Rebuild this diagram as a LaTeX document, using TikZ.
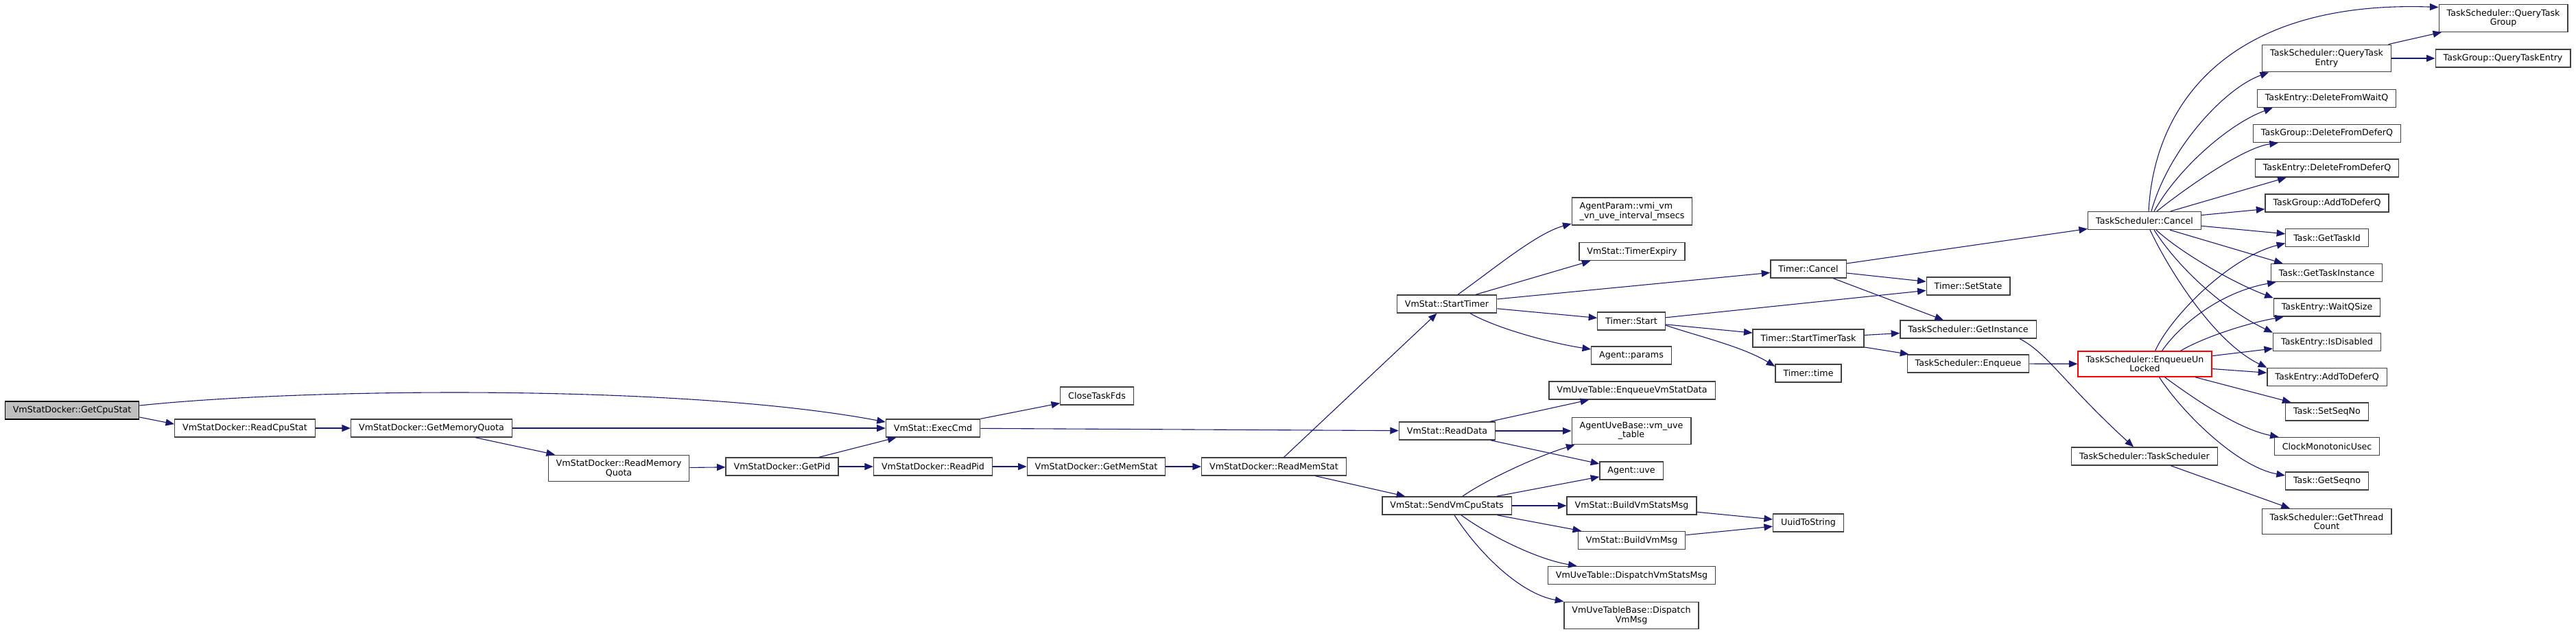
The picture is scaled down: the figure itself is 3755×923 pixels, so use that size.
\documentclass[tikz,border=0pt]{standalone}
\usepackage{fontspec}
\setmainfont{DejaVu Sans}
\usetikzlibrary{arrows.meta, positioning, calc}
\definecolor{edgeblue}{RGB}{25, 25, 112}
\definecolor{boxgray}{RGB}{191, 191, 191}
\definecolor{boxline}{RGB}{64, 64, 64}

\begin{document}
\begin{tikzpicture}[
  x=0.2mm, y=-0.2mm,
  box/.style={draw=boxline, fill=white, line width=0.26mm, minimum height=5.2mm, inner xsep=2.3mm, inner ysep=1.4mm, align=center, font=\fontsize{7.2}{7.6}\selectfont},
  rootbox/.style={box, draw=black, fill=boxgray},
  redbox/.style={box, draw=red},
  arrow/.style={-{Triangle[length=2.5mm, width=2mm]}, line width=0.22mm, color=edgeblue}
]
  \useasboundingbox (0,0) rectangle (3755,923);

  % VmStatDocker chain
  \node[rootbox] (getcpu) at (105,598) {VmStatDocker::GetCpuStat};
  \node[box] (readcpu) at (357,624) {VmStatDocker::ReadCpuStat};
  \node[box] (getmemq) at (629,624) {VmStatDocker::GetMemoryQuota};
  \node[box] (readmemq) at (902,682.5) {VmStatDocker::ReadMemory\\Quota};
  \node[box] (getpid) at (1140,680) {VmStatDocker::GetPid};
  \node[box] (readpid) at (1360,680) {VmStatDocker::ReadPid};
  \node[box] (getmemstat) at (1598,680) {VmStatDocker::GetMemStat};
  \node[box] (readmemstat) at (1857,680) {VmStatDocker::ReadMemStat};
  \node[box] (execcmd) at (1360,624) {VmStat::ExecCmd};
  \node[box] (closefds) at (1599,577) {CloseTaskFds};

  % VmStat
  \node[box] (starttimer) at (2109,443) {VmStat::StartTimer};
  \node[box] (readdata) at (2109.5,628) {VmStat::ReadData};
  \node[box] (sendcpu) at (2109,737) {VmStat::SendVmCpuStats};
  \node[box, align=left] (agentparam) at (2379,308) {AgentParam::vmi\_vm\\\_vn\_uve\_interval\_msecs};
  \node[box] (timerexpiry) at (2379,366.5) {VmStat::TimerExpiry};
  \node[box] (timerstart) at (2378,468) {Timer::Start};
  \node[box] (agentparams) at (2378,518) {Agent::params};
  \node[box] (enqvmstat) at (2379,569) {VmUveTable::EnqueueVmStatData};
  \node[box] (vmuvetable) at (2378,628) {AgentUveBase::vm\_uve\\\_table};
  \node[box] (agentuve) at (2378,686) {Agent::uve};
  \node[box] (buildstats) at (2378.5,737) {VmStat::BuildVmStatsMsg};
  \node[box] (buildvm) at (2378.5,787.5) {VmStat::BuildVmMsg};
  \node[box] (dispstats) at (2378.5,838.5) {VmUveTable::DispatchVmStatsMsg};
  \node[box] (dispvm) at (2378,897) {VmUveTableBase::Dispatch\\VmMsg};

  % Timer
  \node[box] (timercancel) at (2636,392) {Timer::Cancel};
  \node[box] (starttask) at (2636,493) {Timer::StartTimerTask};
  \node[box] (timertime) at (2636,544) {Timer::time};
  \node[box] (uuid) at (2636,762) {UuidToString};
  \node[box] (setstate) at (2869,417) {Timer::SetState};
  \node[box] (getinst) at (2869,480) {TaskScheduler::GetInstance};
  \node[box] (enqueue) at (2869,530) {TaskScheduler::Enqueue};

  % TaskScheduler
  \node[box] (cancel) at (3126,321.5) {TaskScheduler::Cancel};
  \node[redbox] (enqunlocked) at (3126.5,530.5) {TaskScheduler::EnqueueUn\\Locked};
  \node[box] (tsched) at (3126,665) {TaskScheduler::TaskScheduler};
  \node[box] (qtentry) at (3391.5,85) {TaskScheduler::QueryTask\\Entry};
  \node[box] (delwaitq) at (3391.5,143.5) {TaskEntry::DeleteFromWaitQ};
  \node[box] (tgdeldefer) at (3392,194.5) {TaskGroup::DeleteFromDeferQ};
  \node[box] (tedeldefer) at (3392,245) {TaskEntry::DeleteFromDeferQ};
  \node[box] (tgadddefer) at (3392,296) {TaskGroup::AddToDeferQ};
  \node[box] (gettaskid) at (3392,346.5) {Task::GetTaskId};
  \node[box] (gettaskinst) at (3391.5,397.5) {Task::GetTaskInstance};
  \node[box] (waitqsize) at (3392,448) {TaskEntry::WaitQSize};
  \node[box] (isdisabled) at (3392,498.5) {TaskEntry::IsDisabled};
  \node[box] (teadddefer) at (3392,549.5) {TaskEntry::AddToDeferQ};
  \node[box] (setseqno) at (3392,600) {Task::SetSeqNo};
  \node[box] (clockmono) at (3392,650.5) {ClockMonotonicUsec};
  \node[box] (getseqno) at (3392,701) {Task::GetSeqno};
  \node[box] (threadcount) at (3391.5,760) {TaskScheduler::GetThread\\Count};
  \node[box] (qtgroup) at (3649,26.5) {TaskScheduler::QueryTask\\Group};
  \node[box] (tgqtentry) at (3648.5,85) {TaskGroup::QueryTaskEntry};

  % Arrows
  \draw[arrow] ($(getcpu.east)+(0,-7)$) .. controls (450,565) and (1000,560) .. ($(execcmd.west)+(0,-9)$);
  \draw[arrow] ($(getcpu.east)+(0,10)$) -- ($(readcpu.west)+(0,-6)$);
  \draw[arrow] (readcpu) -- (getmemq);
  \draw[arrow] (getmemq) -- (execcmd);
  \draw[arrow] (getmemq) -- (readmemq);
  \draw[arrow] (readmemq) -- (getpid);
  \draw[arrow] (getpid) -- (execcmd);
  \draw[arrow] (getpid) -- (readpid);
  \draw[arrow] (readpid) -- (getmemstat);
  \draw[arrow] (getmemstat) -- (readmemstat);
  \draw[arrow] (readmemstat) -- (starttimer);
  \draw[arrow] (readmemstat) -- (sendcpu);
  \draw[arrow] (execcmd) -- (closefds);
  \draw[arrow] (execcmd) -- (readdata);

  \draw[arrow] ($(starttimer.north)+(16,0)$) .. controls (2180,390) and (2240,340) .. ($(agentparam.west)+(0,18)$);
  \draw[arrow] ($(starttimer.north)+(42,0)$) -- ($(timerexpiry.south west)+(17,0)$);
  \draw[arrow] (starttimer) -- (timercancel);
  \draw[arrow] (starttimer) -- (timerstart);
  \draw[arrow] ($(starttimer.south)+(34,0)$) .. controls (2180,478) and (2260,500) .. ($(agentparams.west)+(0,-9)$);

  \draw[arrow] (timercancel) -- (cancel);
  \draw[arrow] (timercancel) -- (setstate);
  \draw[arrow] (timercancel) -- (getinst);
  \draw[arrow] (timerstart) -- (setstate);
  \draw[arrow] (timerstart) -- (starttask);
  \draw[arrow] ($(timerstart.east)+(0,6)$) .. controls (2475,490) and (2540,505) .. ($(timertime.west)+(0,-10)$);
  \draw[arrow] (starttask) -- (getinst);
  \draw[arrow] (starttask) -- (enqueue);
  \draw[arrow] ($(getinst.south)+(75,0)$) .. controls (2985,515) and (3010,560) .. ($(tsched.north)+(-16,0)$);
  \draw[arrow] (enqueue) -- (enqunlocked);
  \draw[arrow] (tsched) -- (threadcount);

  \draw[arrow] (readdata) -- (enqvmstat);
  \draw[arrow] (readdata) -- (vmuvetable);
  \draw[arrow] (readdata) -- (agentuve);
  \draw[arrow] ($(sendcpu.north)+(23,0)$) .. controls (2165,700) and (2240,665) .. ($(vmuvetable.south west)+(5,0)$);
  \draw[arrow] (sendcpu) -- (agentuve);
  \draw[arrow] (sendcpu) -- (buildstats);
  \draw[arrow] (sendcpu) -- (buildvm);
  \draw[arrow] ($(sendcpu.south)+(21,0)$) .. controls (2170,780) and (2240,815) .. ($(dispstats.north)+(-80,0)$);
  \draw[arrow] ($(sendcpu.south)+(11,0)$) .. controls (2155,805) and (2215,865) .. (dispvm.north west);
  \draw[arrow] (buildstats) -- (uuid);
  \draw[arrow] (buildvm) -- (uuid);

  \draw[arrow] ($(cancel.north)+(6,0)$) .. controls (3140,150) and (3250,0) .. ($(qtgroup.west)+(0,-16)$);
  \draw[arrow] ($(cancel.north)+(10,0)$) .. controls (3160,220) and (3240,130) .. ($(qtentry.south west)+(10,0)$);
  \draw[arrow] ($(cancel.north)+(14,0)$) .. controls (3175,245) and (3250,180) .. ($(delwaitq.south west)+(23,0)$);
  \draw[arrow] ($(cancel.north)+(18,0)$) .. controls (3185,275) and (3270,215) .. ($(tgdeldefer.south west)+(37,0)$);
  \draw[arrow] ($(cancel.north)+(38,0)$) -- ($(tedeldefer.south west)+(46,0)$);
  \draw[arrow] (cancel) -- (tgadddefer);
  \draw[arrow] (cancel) -- (gettaskid);
  \draw[arrow] ($(cancel.south)+(37,0)$) -- ($(gettaskinst.north west)+(18,0)$);
  \draw[arrow] ($(cancel.south)+(17,0)$) .. controls (3175,365) and (3250,410) .. (waitqsize.north west);
  \draw[arrow] ($(cancel.south)+(14,0)$) .. controls (3175,390) and (3240,450) .. (isdisabled.north west);
  \draw[arrow] ($(cancel.south)+(8,0)$) .. controls (3165,400) and (3230,500) .. (teadddefer.north west);
  \draw[arrow] (qtentry) -- (qtgroup);
  \draw[arrow] (qtentry) -- (tgqtentry);

  \draw[arrow] ($(enqunlocked.north)+(15,0)$) .. controls (3165,460) and (3250,375) .. ($(gettaskid.west)+(0,8)$);
  \draw[arrow] ($(enqunlocked.north)+(25,0)$) .. controls (3180,470) and (3240,425) .. ($(gettaskinst.south west)+(8,0)$);
  \draw[arrow] ($(enqunlocked.north)+(52,0)$) .. controls (3215,490) and (3280,470) .. ($(waitqsize.south west)+(15,0)$);
  \draw[arrow] (enqunlocked) -- (isdisabled);
  \draw[arrow] (enqunlocked) -- (teadddefer);
  \draw[arrow] (enqunlocked) -- (setseqno);
  \draw[arrow] ($(enqunlocked.south)+(29,0)$) .. controls (3190,575) and (3260,625) .. ($(clockmono.north west)+(7,0)$);
  \draw[arrow] ($(enqunlocked.south)+(21,0)$) .. controls (3180,600) and (3260,680) .. ($(getseqno.west)+(0,-8)$);
\end{tikzpicture}
\end{document}
